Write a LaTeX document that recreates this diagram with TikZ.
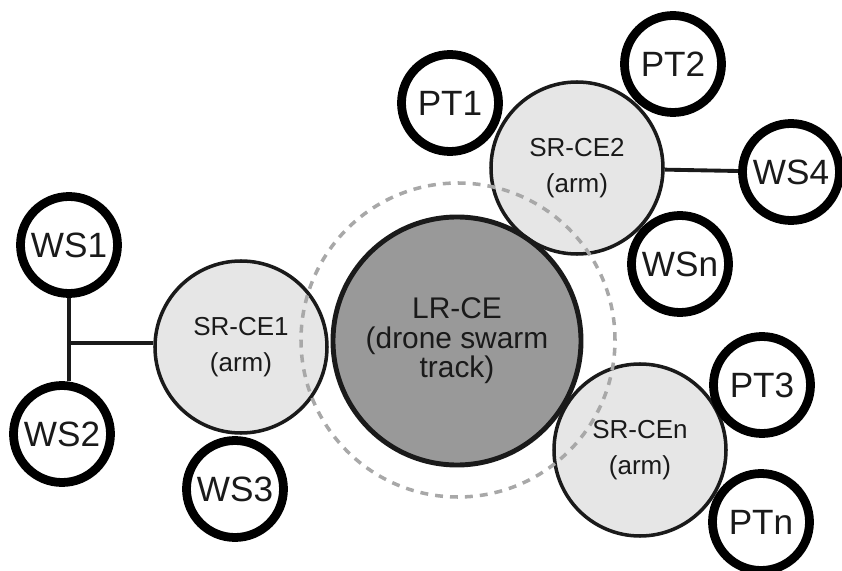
\documentclass[tikz,border=0pt]{standalone}
\usepackage{fontspec}
\setmainfont{Liberation Sans}
\usetikzlibrary{calc}
\definecolor{armgray}{HTML}{E6E6E6}
\definecolor{trackgray}{HTML}{999999}
\definecolor{reachgray}{HTML}{A8A8A8}
\definecolor{ink}{HTML}{1A1A1A}
\begin{document}
\begin{tikzpicture}[x=0.2mm,y=-0.2mm,
unit/.style={circle,draw=black,line width=5pt,fill=white,minimum size=19.4mm,inner sep=0pt,text=ink,font=\fontsize{20}{22}\selectfont},
arm/.style={circle,draw=ink,line width=2pt,fill=armgray,minimum size=34.4mm,inner sep=0pt,align=center,text=ink,font=\fontsize{14.8}{20.5}\selectfont},
track/.style={circle,draw=ink,line width=2.8pt,fill=trackgray,minimum size=49.6mm,inner sep=0pt,align=center,text=ink,font=\fontsize{17}{16.8}\selectfont},
reach/.style={draw=reachgray,line width=2pt,dash pattern=on 4.5pt off 4pt}]
\useasboundingbox (0,0) rectangle (842,571);
\node[arm] (SR-CE1) at (241,347) {SR-CE1\\(arm)};
\node[arm] (SR-CE2) at (577,168) {SR-CE2\\(arm)};
\node[arm] (SR-CEn) at (640,450) {SR-CEn\\(arm)};
\draw[reach] (458,340) circle [radius=31.4mm];
\node[track] (LR-CE) at (457,341) {LR-CE\\(drone swarm\\track)};
\node[unit] (WS1) at (69,245) {WS1};
\node[unit] (WS2) at (62,434) {WS2};
\node[unit] (WS3) at (235,489) {WS3};
\node[unit] (PT1) at (450,103) {PT1};
\node[unit] (PT2) at (673,64) {PT2};
\node[unit] (WS4) at (791,172) {WS4};
\node[unit] (WSn) at (680,264) {WSn};
\node[unit] (PT3) at (762,385) {PT3};
\node[unit] (PTn) at (761,522) {PTn};
\coordinate (hub) at (69,343);
\begin{scope}[line width=2.2pt, ink]
 \draw (hub |- WS1.south) -- (hub |- WS2.north);
 \draw (hub) -- (SR-CE1.west |- hub);
 \draw (SR-CE2) -- (WS4);
\end{scope}
\end{tikzpicture}
\end{document}
